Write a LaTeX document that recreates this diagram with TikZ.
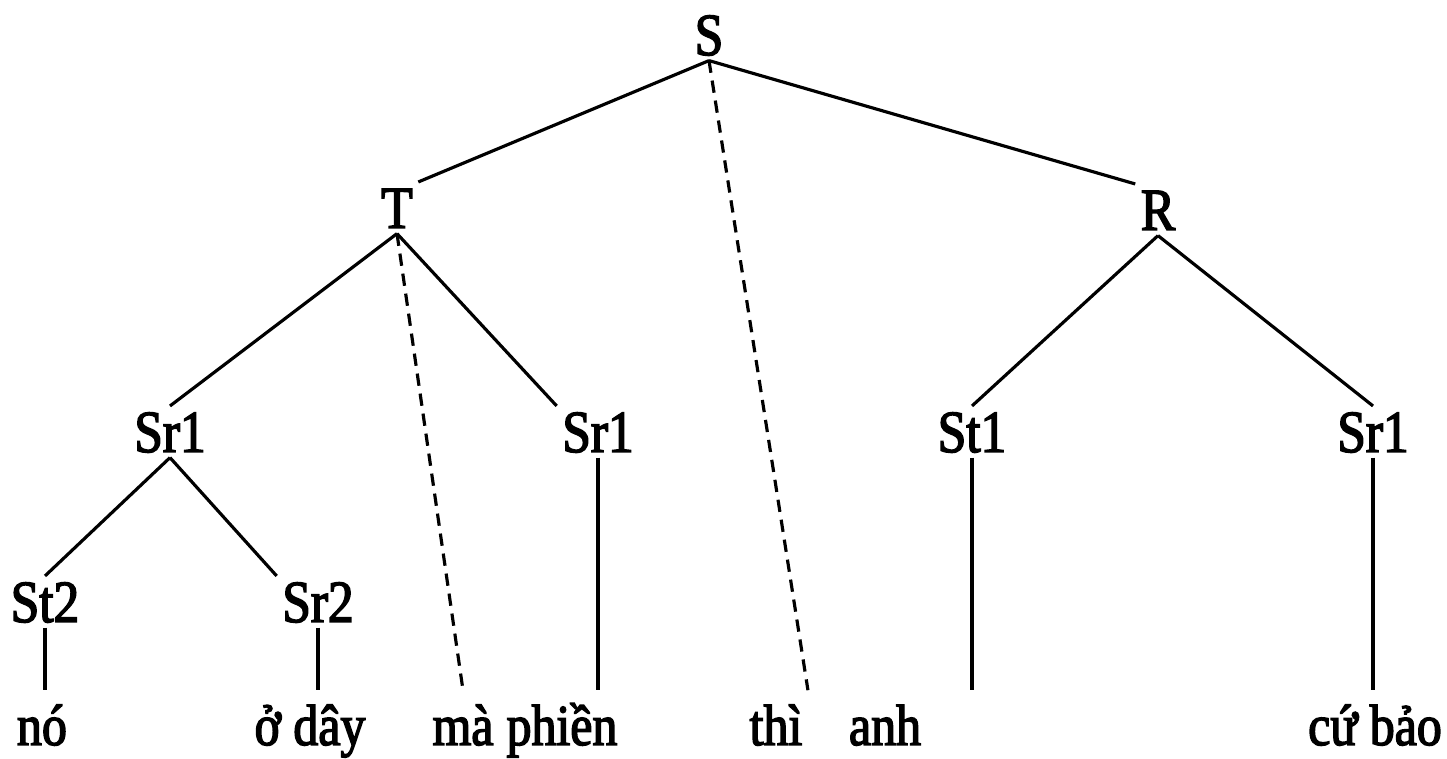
\documentclass[tikz,border=0pt]{standalone}
\usepackage{fontspec}
\setmainfont{Liberation Serif}
\newfontfamily\treefont{Liberation Serif}[FakeStretch=0.86, FakeBold=2.5]
\tikzset{
  lbl/.style={anchor=base, inner sep=3pt, text height=23pt, text depth=0pt, font=\treefont\fontsize{34}{36}\selectfont},
  word/.style={anchor=base, inner sep=3pt, text height=28pt, text depth=0pt, font=\treefont\fontsize{33}{36}\selectfont},
  edge/.style={line width=1.8pt},
  trace/.style={line width=1.8pt, dash pattern=on 7pt off 4.5pt}
}
\begin{document}
\begin{tikzpicture}[x=0.02cm,y=-0.02cm]
\useasboundingbox (0,0) rectangle (1447,759);

% labels
\node[lbl] (s) at (709,55) {S};
\node[lbl] (t) at (397,228) {T};
\node[lbl] (r) at (1158,230) {R};
\node[lbl] (sra) at (170,452) {Sr1};
\node[lbl] (srb) at (598,452) {Sr1};
\node[lbl] (stc) at (972,452) {St1};
\node[lbl] (srd) at (1373,452) {Sr1};
\node[lbl] (ste) at (45,622) {St2};
\node[lbl] (srf) at (318,622) {Sr2};

% words
\node[word] (no) at (42,745) {nó};
\node[word] (oday) at (310,745) {ở dây};
\node[word] (ma) at (463,745) {mà};
\node[word] (phien) at (562,745) {phiền};
\node[word] (thi) at (776,745) {thì};
\node[word] (anh) at (885,745) {anh};
\node[word] (cubao) at (1375,745) {cứ bảo};

% branches
\draw[edge] (s.south) -- (t.north east);
\draw[edge] (s.south) -- (r.north west);
\draw[edge] (t.south) -- (sra.north);
\draw[edge] (t.south) -- (srb.north west);
\draw[edge] (r.south) -- (stc.north);
\draw[edge] (r.south) -- (srd.north);
\draw[edge] (sra.south) -- (ste.north);
\draw[edge] (sra.south) -- (srf.north west);
\draw[edge] (ste.south) -- (ste.south |- no.north);
\draw[edge] (srf.south) -- (srf.south |- oday.north);
\draw[edge] (srb.south) -- (srb.south |- phien.north);
\draw[edge] (stc.south) -- (stc.south |- anh.north);
\draw[edge] (srd.south) -- (srd.south |- cubao.north);

% dashed
\draw[trace] (t.south) -- (ma.north);
\draw[trace] (s.south) -- (thi.north east);
\end{tikzpicture}
\end{document}
